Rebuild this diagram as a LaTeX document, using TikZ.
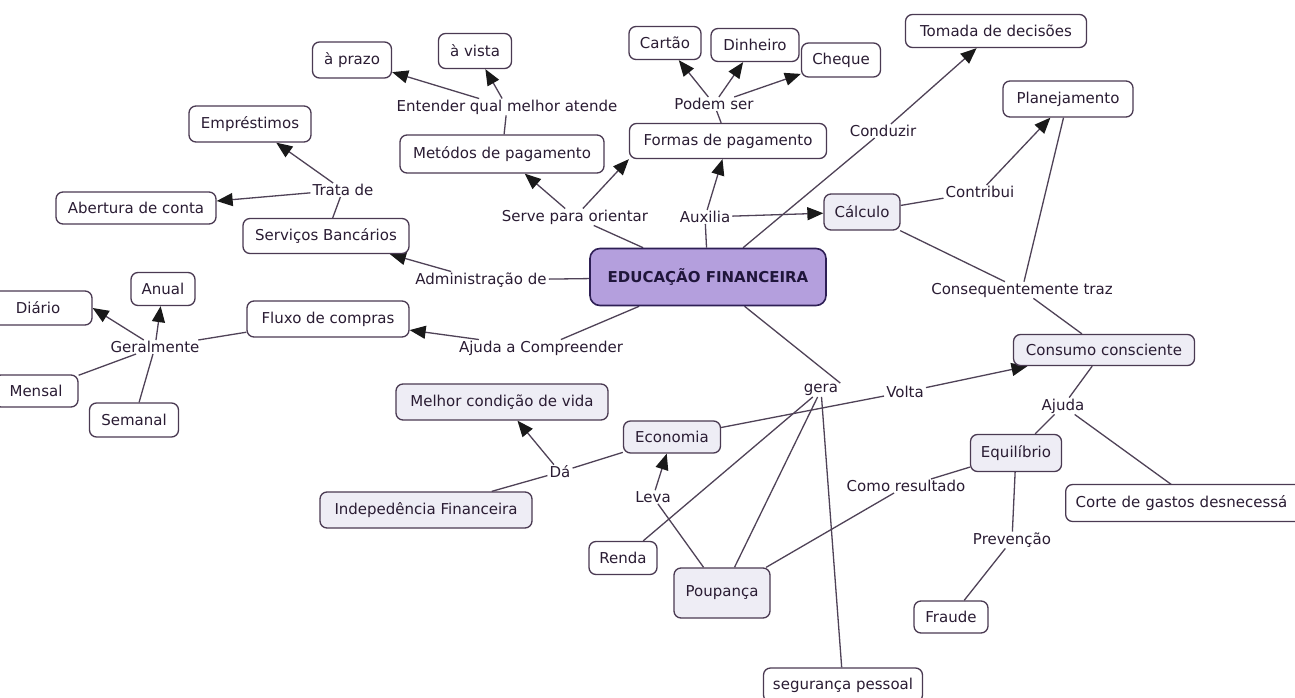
\documentclass[tikz,border=0pt]{standalone}
\usepackage{fontspec}
\setmainfont{DejaVu Sans}
\usetikzlibrary{arrows.meta,calc,backgrounds}
\definecolor{txtc}{HTML}{2A1C33}
\definecolor{bordc}{HTML}{4A3A52}
\definecolor{linec}{HTML}{4F4257}
\definecolor{softc}{HTML}{EEEDF5}
\definecolor{efill}{HTML}{B49FDD}
\definecolor{eborder}{HTML}{2E1F55}
\begin{document}
\begin{tikzpicture}[x=1pt,y=-1pt,
  concept/.style={draw=bordc, line width=1.3pt, rounded corners=7pt, fill=white, text=txtc, font=\fontsize{15}{18}\selectfont, inner sep=0pt},
  soft/.style={concept, fill=softc},
  sz/.style 2 args={minimum width=#1pt, minimum height=#2pt},
  linkp/.style={text=txtc, font=\fontsize{15}{18}\selectfont, inner xsep=2pt, inner ysep=1pt},
  conn/.style={draw=linec, line width=1.3pt},
  arr/.style={conn, -{Triangle[length=16pt,width=13pt,color=black!90]}},
]
\useasboundingbox (0,0) rectangle (1295,698);

% concepts
\node[concept, sz={79}{36}] (aprazo) at (352,60) {à prazo};
\node[concept, sz={73}{35}] (avista) at (475,51) {à vista};
\node[concept, sz={122}{36}] (empr) at (250,124) {Empréstimos};
\node[concept, sz={204}{38}] (metodos) at (502,154) {Metódos de pagamento};
\node[concept, sz={160}{32}] (abertura) at (136,208) {Abertura de conta};
\node[concept, sz={166}{35}] (servicos) at (326,236) {Serviços Bancários};
\node[concept, sz={72}{33}] (cartao) at (665,43) {Cartão};
\node[concept, sz={88}{33}] (dinheiro) at (755,45) {Dinheiro};
\node[concept, sz={79}{34}] (cheque) at (841,60) {Cheque};
\node[concept, sz={181}{33}] (tomada) at (996,31) {Tomada de decisões};
\node[concept, sz={197}{35}] (formas) at (728,141) {Formas de pagamento};
\node[concept, sz={130}{36}] (planej) at (1068,99) {Planejamento};
\node[soft, sz={76}{36}] (calculo) at (862,212) {Cálculo};
\node[draw=eborder, line width=1.6pt, rounded corners=10pt, fill=efill, text=eborder!70!black,
      font=\fontsize{15}{18}\selectfont\bfseries, sz={236}{57}, inner sep=0pt] (ef) at (708,277) {EDUCAÇÃO FINANCEIRA};
\node[concept, sz={64}{33}] (anual) at (163,289) {Anual};
\node[concept, sz={108}{34}] (diario) at (38,308) {Diário};
\node[concept, sz={162}{36}] (fluxo) at (328,319) {Fluxo de compras};
\node[concept, sz={84}{32}] (mensal) at (36,391) {Mensal};
\node[concept, sz={89}{34}] (semanal) at (134,420) {Semanal};
\node[soft, sz={212}{36}] (melhor) at (502,402) {Melhor condição de vida};
\node[soft, sz={97}{32}] (economia) at (672,437) {Economia};
\node[soft, sz={212}{36}] (indep) at (426,510) {Indepedência Financeira};
\node[concept, sz={68}{33}] (renda) at (623,558) {Renda};
\node[soft, sz={96}{50}] (poupanca) at (722,593) {Poupança};
\node[concept, sz={159}{34}] (seguranca) at (843,685) {segurança pessoal};
\node[soft, sz={181}{31}] (consumo) at (1104,350) {Consumo consciente};
\node[soft, sz={91}{37}] (equilibrio) at (1016,453) {Equilíbrio};
\node[concept, minimum height=37pt, inner xsep=10pt, text width=250pt, align=left, anchor=west] (corte) at (1065,503) {Corte de gastos desnecessá};
\node[concept, sz={74}{32}] (fraude) at (951,617) {Fraude};

% linking phrases
\node[linkp] (entender) at (507,107) {Entender qual melhor atende};
\node[linkp] (trata) at (343,190) {Trata de};
\node[linkp] (serve) at (575,217) {Serve para orientar};
\node[linkp] (podem) at (714,104) {Podem ser};
\node[linkp] (conduzir) at (883,131) {Conduzir};
\node[linkp] (auxilia) at (705,217) {Auxilia};
\node[linkp] (contribui) at (980,192) {Contribui};
\node[linkp] (admin) at (481,280) {Administração de};
\node[linkp] (ajudacomp) at (541,348) {Ajuda a Compreender};
\node[linkp] (geralmente) at (155,347) {Geralmente};
\node[linkp] (conseq) at (1022,290) {Consequentemente traz};
\node[linkp] (gera) at (821,390) {gera};
\node[linkp] (volta) at (905,392) {Volta};
\node[linkp] (ajuda) at (1063,406) {Ajuda};
\node[linkp] (comores) at (906,486) {Como resultado};
\node[linkp] (prevencao) at (1012,540) {Prevenção};
\node[linkp] (da) at (560,472) {Dá};
\node[linkp] (leva) at (653,497) {Leva};

\coordinate (cortetop) at (1172,485);
\coordinate (crin) at ($(comores.north)+(25,0)$);
\coordinate (crout) at ($(comores.south)+(-12,0)$);

\begin{pgfonlayer}{background}
\fill[white] (0,0) rectangle (1295,698);
\draw[conn] (ef) -- (serve);
\draw[arr] (serve) -- (metodos);
\draw[arr] (serve) -- (formas.south west);
\draw[conn] (ef) -- (auxilia);
\draw[arr] (auxilia) -- (formas);
\draw[arr] (auxilia) -- (calculo);
\draw[conn] (ef) -- (conduzir);
\draw[arr] (conduzir) -- (tomada);
\draw[conn] (ef) -- (admin);
\draw[arr] (admin) -- (servicos);
\draw[conn] (ef) -- (ajudacomp);
\draw[arr] (ajudacomp) -- (fluxo);
\draw[conn] (ef) -- (gera.north east);
\draw[conn] (gera) -- (renda);
\draw[conn] (gera) -- (poupanca);
\draw[conn] (gera) -- (seguranca);
\draw[conn] (servicos) -- (trata);
\draw[arr] (trata) -- (empr);
\draw[arr] (trata) -- (abertura);
\draw[conn] (metodos) -- (entender);
\draw[arr] (entender) -- (aprazo);
\draw[arr] (entender) -- (avista);
\draw[conn] (formas) -- (podem);
\draw[arr] (podem) -- (cartao);
\draw[arr] (podem) -- (dinheiro);
\draw[arr] (podem) -- (cheque);
\draw[conn] (calculo) -- (contribui);
\draw[arr] (contribui) -- (planej);
\draw[conn] (calculo) -- (conseq);
\draw[conn] (planej) -- (conseq);
\draw[conn] (conseq) -- (consumo);
\draw[conn] (fluxo) -- (geralmente);
\draw[arr] (geralmente) -- (diario.east);
\draw[arr] (geralmente) -- (anual);
\draw[conn] (geralmente) -- (mensal);
\draw[conn] (geralmente) -- (semanal);
\draw[conn] (economia) -- (volta);
\draw[arr] (volta) -- (consumo);
\draw[conn] (consumo) -- (ajuda);
\draw[conn] (ajuda) -- (equilibrio);
\draw[conn] (ajuda) -- (cortetop);
\draw[conn] (equilibrio) -- (crin);
\draw[conn] (crout) -- (poupanca);
\draw[conn] (equilibrio) -- (prevencao);
\draw[conn] (prevencao) -- (fraude);
\draw[conn] (economia) -- (da);
\draw[arr] (da) -- (melhor);
\draw[conn] (da) -- (indep);
\draw[conn] (poupanca) -- (leva);
\draw[arr] (leva) -- (economia);
\end{pgfonlayer}
\end{tikzpicture}
\end{document}
